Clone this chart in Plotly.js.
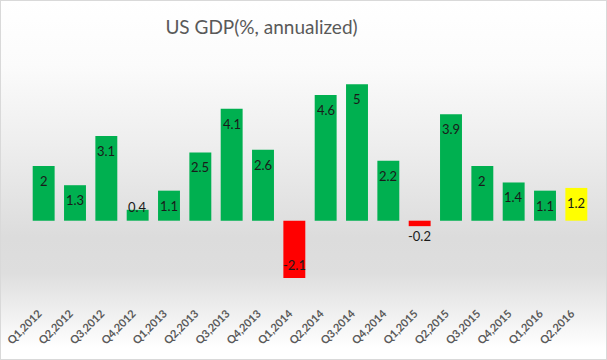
<!DOCTYPE html>
<html>
<head>
<meta charset="utf-8">
<script src="https://cdn.plot.ly/plotly-3.0.1.min.js"></script>
<style>
  html, body { margin: 0; padding: 0; background: #ffffff; }
  #wrap {
    position: absolute; left: 0; top: 0; width: 607px; height: 360px;
    box-sizing: border-box; border: 1px solid #d9d9d9;
    background: linear-gradient(to bottom, #ffffff 0%, #fbfbfb 18%, #eeeeee 40%, #dcdcdc 66%, #dedede 76%, #f4f4f4 90%, #ffffff 97%);
  }
  #chart { position: absolute; left: -1px; top: -1px; width: 607px; height: 360px; }
</style>
</head>
<body>
<div id="wrap"><div id="chart"></div></div>
<script>
const categories = ["Q1,2012","Q2,2012","Q3,2012","Q4,2012","Q1,2013","Q2,2013","Q3,2013","Q4,2013","Q1,2014","Q2,2014","Q3,2014","Q4,2014","Q1,2015","Q2,2015","Q3,2015","Q4,2015","Q1,2016","Q2,2016"];
const gdpValues = [2, 1.3, 3.1, 0.4, 1.1, 2.5, 4.1, 2.6, -2.1, 4.6, 5, 2.2, -0.2, 3.9, 2, 1.4, 1.1, 1.2];
const isLatest = categories.map((c, i) => i === categories.length - 1);

const colors = gdpValues.map((v, i) => isLatest[i] ? "#ffff00" : (v < 0 ? "#ff0000" : "#00b050"));

const yRange = [-3.051, 5.886];
const pxPerUnit = (360 - 60 - 56) / (yRange[1] - yRange[0]);

const annotations = gdpValues.map((v, i) => {
  const h = Math.abs(v) * pxPerUnit;
  let shift;
  if (v >= 0) shift = h < 20 ? 3 : -15;
  else shift = h < 20 ? -10 : 13;
  return {
    x: categories[i], y: v, xref: "x", yref: "y",
    text: String(v), showarrow: false, yshift: shift,
    font: { family: "Lato, 'Open Sans', sans-serif", size: 13, color: "#1a1a1a" }
  };
});

const trace = {
  type: "bar",
  x: categories,
  y: gdpValues,
  marker: { color: colors, line: { width: 0 } },
  hoverinfo: "x+y"
};

const layout = {
  width: 607, height: 360,
  margin: { l: 28, r: 15, t: 60, b: 56 },
  paper_bgcolor: "rgba(0,0,0,0)",
  plot_bgcolor: "rgba(0,0,0,0)",
  bargap: 0.3,
  showlegend: false,
  title: {
    text: "US GDP(%, annualized)",
    font: { family: "Lato, 'Open Sans', sans-serif", size: 19, color: "#595959" },
    x: 261.5 / 607, xref: "container", xanchor: "center",
    y: 1 - 27 / 360, yref: "container", yanchor: "middle"
  },
  xaxis: {
    type: "category",
    tickangle: -45,
    ticks: "", showline: false, showgrid: false, zeroline: false,
    automargin: false,
    ticklabelshift: -5,
    tickfont: { family: "Lato, 'Open Sans', sans-serif", size: 11, color: "#595959", weight: "bold" }
  },
  yaxis: {
    range: yRange,
    showticklabels: false, showgrid: false, zeroline: false, showline: false, ticks: "",
    automargin: false
  },
  annotations: annotations
};

Plotly.newPlot("chart", [trace], layout, { displayModeBar: false, staticPlot: true });
</script>
</body>
</html>
